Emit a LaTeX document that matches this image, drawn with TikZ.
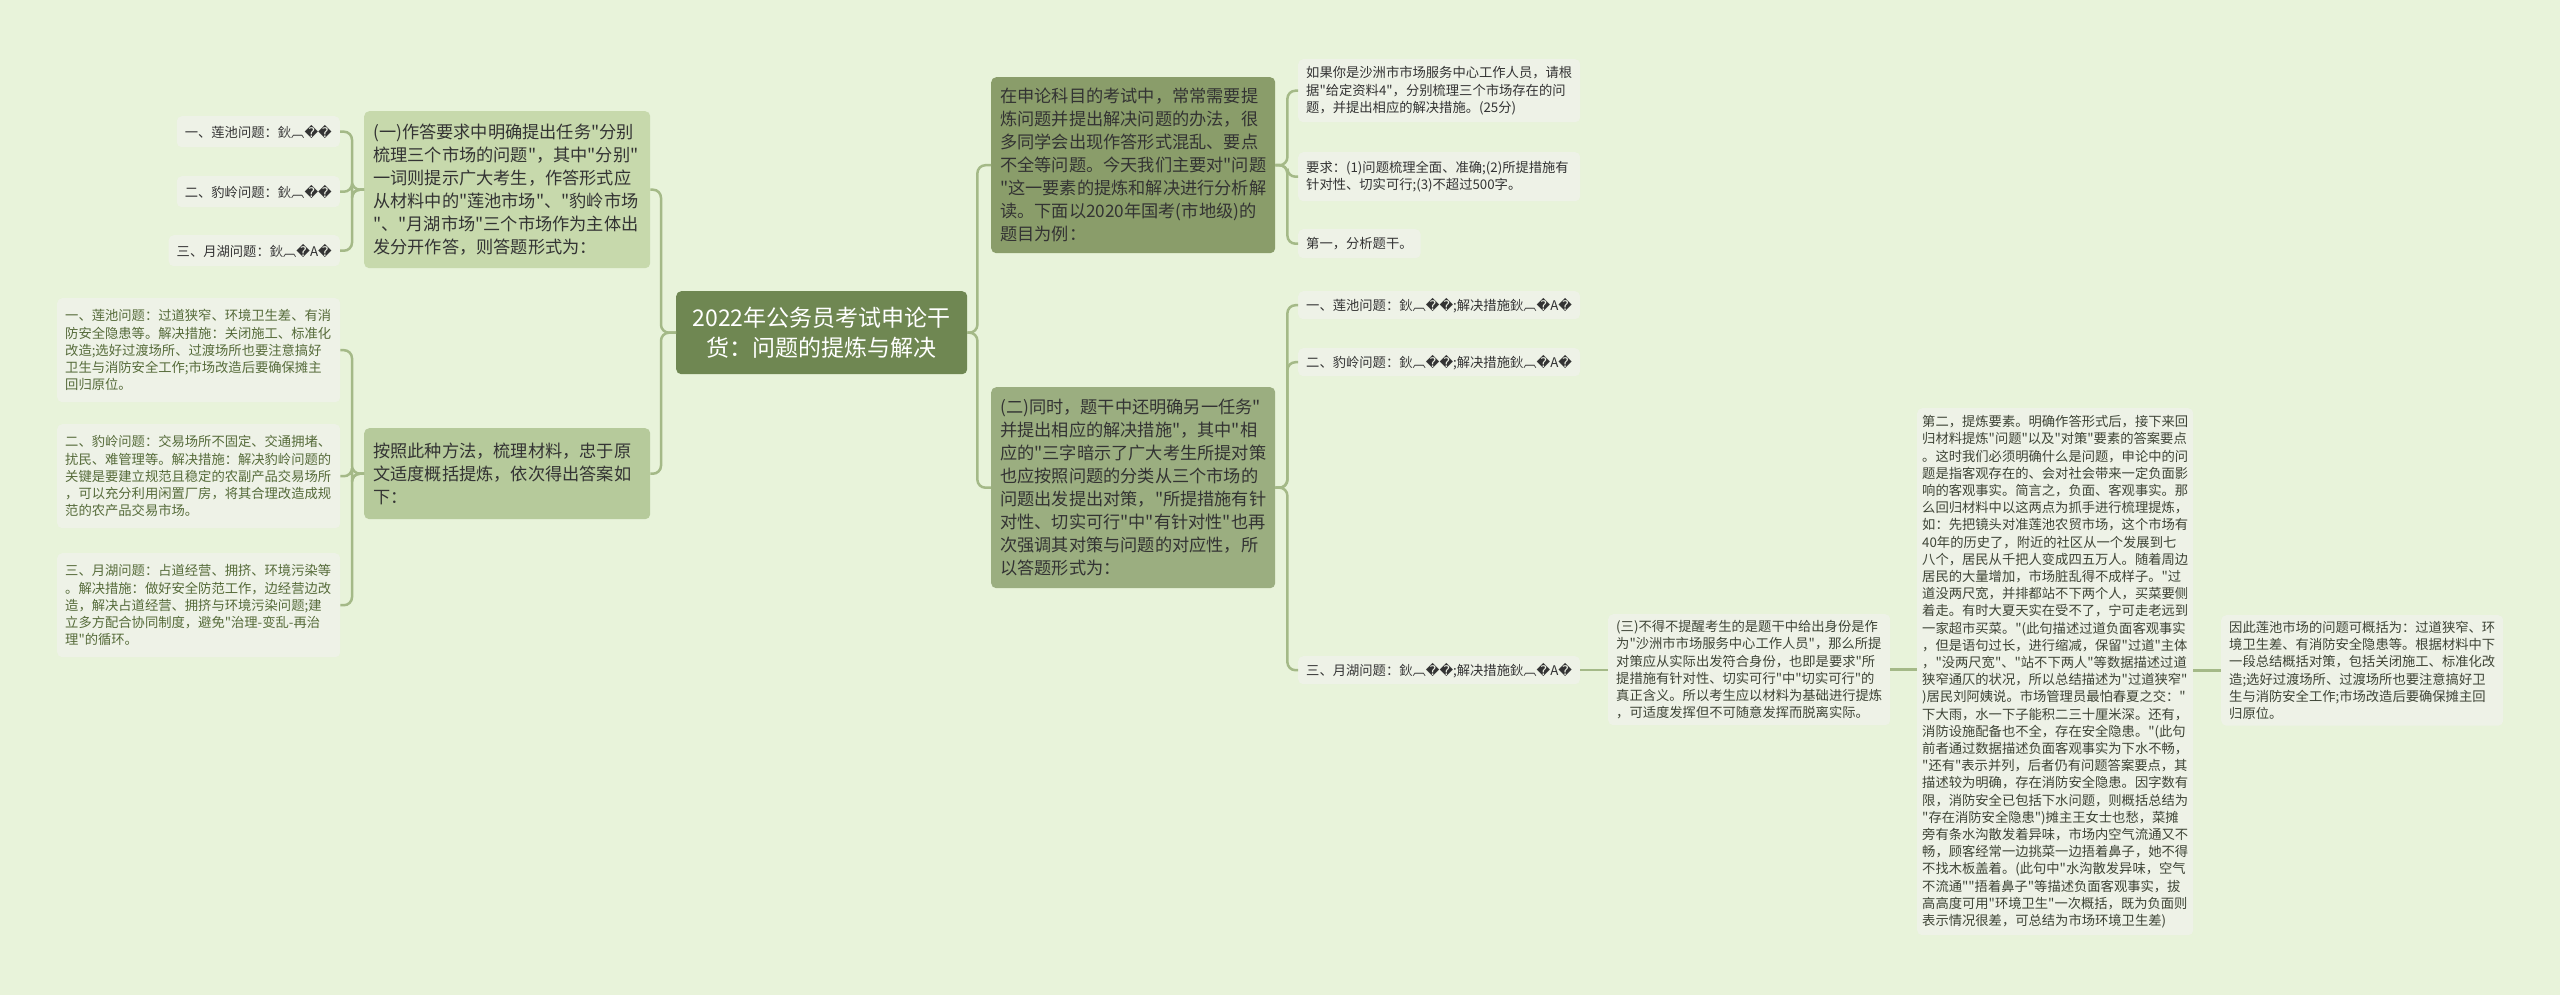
\documentclass[tikz,border=0pt]{standalone}
\usepackage{fontspec}
\newfontfamily\cjk{Noto Sans CJK SC}
\setmainfont{Noto Sans CJK SC}
\newfontfamily\dvsans{DejaVu Sans}
\newcommand\rp{{\dvsans\char"FFFD}}
\newcommand\gb{鈥︹}
\definecolor{bgc}{HTML}{E8F3DA}
\definecolor{cenc}{HTML}{6F8752}
\definecolor{bonec}{HTML}{8A9D6A}
\definecolor{btwoc}{HTML}{9BAE80}
\definecolor{aonec}{HTML}{C7D9AC}
\definecolor{atwoc}{HTML}{B6CA9B}
\definecolor{leafc}{HTML}{EEF2E7}
\definecolor{connc}{HTML}{A4B987}
\definecolor{darktxt}{HTML}{333333}
\definecolor{leaftxt}{HTML}{3E4436}
\definecolor{greentxt}{HTML}{566B3A}
\tikzset{
  base/.style={rounded corners=5pt, anchor=north west, align=left},
  small/.style={base, font=\cjk\fontsize{13.3}{17.2}\selectfont, fill=leafc, text=leaftxt, inner xsep=8pt, inner ysep=6pt},
  mid/.style={base, font=\cjk\fontsize{17.2}{23}\selectfont, text=darktxt, inner xsep=9pt, inner ysep=6pt},
  conn/.style={draw=connc, line width=2.5pt, rounded corners=8pt},
}
\begin{document}
\begin{tikzpicture}[x=1pt,y=-1pt]
\fill[bgc] (0,0) rectangle (2560,995);
\useasboundingbox (0,0) rectangle (2560,995);

% center
\node[base, fill=cenc, text=white, align=center, text width=273pt, inner xsep=9pt, minimum height=83pt, font=\cjk\fontsize{23}{30.5}\selectfont] (c) at (676,291) {2022年公务员考试申论干\\货：问题的提炼与解决};

% left side
\node[mid, fill=aonec, text width=268pt, minimum height=157pt] (a1) at (364,111) {(一)作答要求中明确提出任务"分别\\梳理三个市场的问题"，其中"分别"\\一词则提示广大考生，作答形式应\\从材料中的"莲池市场"、"豹岭市场\\"、"月湖市场"三个市场作为主体出\\发分开作答，则答题形式为：};
\node[mid, fill=atwoc, text width=268pt, minimum height=91pt] (a2) at (364,428) {按照此种方法，梳理材料，忠于原\\文适度概括提炼，依次得出答案如\\下：};

\node[small, anchor=north east, text=darktxt, minimum height=31pt] (a1l1) at (340,116) {一、莲池问题：\gb\rp\rp};
\node[small, anchor=north east, text=darktxt, minimum height=31pt] (a1l2) at (340,176) {二、豹岭问题：\gb\rp\rp};
\node[small, anchor=north east, text=darktxt, minimum height=31pt] (a1l3) at (340,235) {三、月湖问题：\gb\rp A\rp};

\node[small, text=greentxt, text width=267pt, minimum height=104pt] (l1) at (57,298) {一、莲池问题：过道狭窄、环境卫生差、有消\\防安全隐患等。解决措施：关闭施工、标准化\\改造;选好过渡场所、过渡场所也要注意搞好\\卫生与消防安全工作;市场改造后要确保摊主\\回归原位。};
\node[small, text=greentxt, text width=267pt, minimum height=104pt] (l2) at (57,424) {二、豹岭问题：交易场所不固定、交通拥堵、\\扰民、难管理等。解决措施：解决豹岭问题的\\关键是要建立规范且稳定的农副产品交易场所\\，可以充分利用闲置厂房，将其合理改造成规\\范的农产品交易市场。};
\node[small, text=greentxt, text width=267pt, minimum height=104pt] (l3) at (57,553) {三、月湖问题：占道经营、拥挤、环境污染等\\。解决措施：做好安全防范工作，边经营边改\\造，解决占道经营、拥挤与环境污染问题;建\\立多方配合协同制度，避免"治理-变乱-再治\\理"的循环。};

% right side
\node[mid, fill=bonec, text width=266pt, minimum height=176pt] (b1) at (991,77) {在申论科目的考试中，常常需要提\\炼问题并提出解决问题的办法，很\\多同学会出现作答形式混乱、要点\\不全等问题。今天我们主要对"问题\\"这一要素的提炼和解决进行分析解\\读。下面以2020年国考(市地级)的\\题目为例：};
\node[mid, fill=btwoc, text width=266pt, minimum height=201pt] (b2) at (991,387) {(二)同时，题干中还明确另一任务"\\并提出相应的解决措施"，其中"相\\应的"三字暗示了广大考生所提对策\\也应按照问题的分类从三个市场的\\问题出发提出对策，"所提措施有针\\对性、切实可行"中"有针对性"也再\\次强调其对策与问题的对应性，所\\以答题形式为：};

\node[small, text=darktxt, text width=266pt, minimum height=63pt] (bl1) at (1298,59) {如果你是沙洲市市场服务中心工作人员，请根\\据"给定资料4"，分别梳理三个市场存在的问\\题，并提出相应的解决措施。(25分)};
\node[small, text=darktxt, text width=266pt, minimum height=49pt] (bl2) at (1298,152) {要求：(1)问题梳理全面、准确;(2)所提措施有\\针对性、切实可行;(3)不超过500字。};
\node[small, text=darktxt, minimum height=29pt] (bl3) at (1298,229) {第一，分析题干。};

\node[small, text=darktxt, minimum height=28pt] (bl4) at (1298,291) {一、莲池问题：\gb\rp\rp;解决措施\gb\rp A\rp};
\node[small, text=darktxt, minimum height=28pt] (bl5) at (1298,348) {二、豹岭问题：\gb\rp\rp;解决措施\gb\rp A\rp};
\node[small, text=darktxt, minimum height=28pt] (bl6) at (1298,656) {三、月湖问题：\gb\rp\rp;解决措施\gb\rp A\rp};

\node[small, text width=266pt, minimum height=111pt] (s3) at (1608,614) {(三)不得不提醒考生的是题干中给出身份是作\\为"沙洲市市场服务中心工作人员"，那么所提\\对策应从实际出发符合身份，也即是要求"所\\提措施有针对性、切实可行"中"切实可行"的\\真正含义。所以考生应以材料为基础进行提炼\\，可适度发挥但不可随意发挥而脱离实际。};

\node[small, text width=266pt, inner xsep=5pt, minimum height=527pt] (big) at (1917,408) {第二，提炼要素。明确作答形式后，接下来回\\归材料提炼"问题"以及"对策"要素的答案要点\\。这时我们必须明确什么是问题，申论中的问\\题是指客观存在的、会对社会带来一定负面影\\响的客观事实。简言之，负面、客观事实。那\\么回归材料中以这两点为抓手进行梳理提炼，\\如：先把镜头对准莲池农贸市场，这个市场有\\40年的历史了，附近的社区从一个发展到七\\八个，居民从千把人变成四五万人。随着周边\\居民的大量增加，市场脏乱得不成样子。"过\\道没两尺宽，并排都站不下两个人，买菜要侧\\着走。有时大夏天实在受不了，宁可走老远到\\一家超市买菜。"(此句描述过道负面客观事实\\，但是语句过长，进行缩减，保留"过道"主体\\，"没两尺宽"、"站不下两人"等数据描述过道\\狭窄通仄的状况，所以总结描述为"过道狭窄"\\)居民刘阿姨说。市场管理员最怕春夏之交："\\下大雨，水一下子能积二三十厘米深。还有，\\消防设施配备也不全，存在安全隐患。"(此句\\前者通过数据描述负面客观事实为下水不畅，\\"还有"表示并列，后者仍有问题答案要点，其\\描述较为明确，存在消防安全隐患。因字数有\\限，消防安全已包括下水问题，则概括总结为\\"存在消防安全隐患")摊主王女士也愁，菜摊\\旁有条水沟散发着异味，市场内空气流通又不\\畅，顾客经常一边挑菜一边捂着鼻子，她不得\\不找木板盖着。(此句中"水沟散发异味，空气\\不流通""捂着鼻子"等描述负面客观事实，拔\\高高度可用"环境卫生"一次概括，既为负面则\\表示情况很差，可总结为市场环境卫生差)};

\node[small, text width=266pt, minimum height=110pt] (rt) at (2221,615) {因此莲池市场的问题可概括为：过道狭窄、环\\境卫生差、有消防安全隐患等。根据材料中下\\一段总结概括对策，包括关闭施工、标准化改\\造;选好过渡场所、过渡场所也要注意搞好卫\\生与消防安全工作;市场改造后要确保摊主回\\归原位。};

% connectors
\draw[conn] (c.west) -- ++(-15,0) |- (a1.east);
\draw[conn] (c.west) -- ++(-15,0) |- (a2.east);
\draw[conn] (c.east) -- ++(10,0) |- (b1.west);
\draw[conn] (c.east) -- ++(10,0) |- (b2.west);

\draw[conn] (a1.west) -- ++(-12,0) |- (a1l1.east);
\draw[conn] (a1.west) -- ++(-12,0) |- (a1l2.east);
\draw[conn] (a1.west) -- ++(-12,0) |- (a1l3.east);

\draw[conn] (a2.west) -- ++(-12,0) |- (l1.east);
\draw[conn] (a2.west) -- ++(-12,0) |- (l2.east);
\draw[conn] (a2.west) -- ++(-12,0) |- (l3.east);

\draw[conn] (b1.east) -- ++(12,0) |- (bl1.west);
\draw[conn] (b1.east) -- ++(12,0) |- (bl2.west);
\draw[conn] (b1.east) -- ++(12,0) |- (bl3.west);

\draw[conn] (b2.east) -- ++(12,0) |- (bl4.west);
\draw[conn] (b2.east) -- ++(12,0) |- (bl5.west);
\draw[conn] (b2.east) -- ++(12,0) |- (bl6.west);

\draw[conn] (bl6.east) -- (bl6.east -| s3.west);
\draw[conn] (s3.east) -- (s3.east -| big.west);
\draw[conn] (big.east |- rt.west) -- (rt.west);
\end{tikzpicture}
\end{document}
